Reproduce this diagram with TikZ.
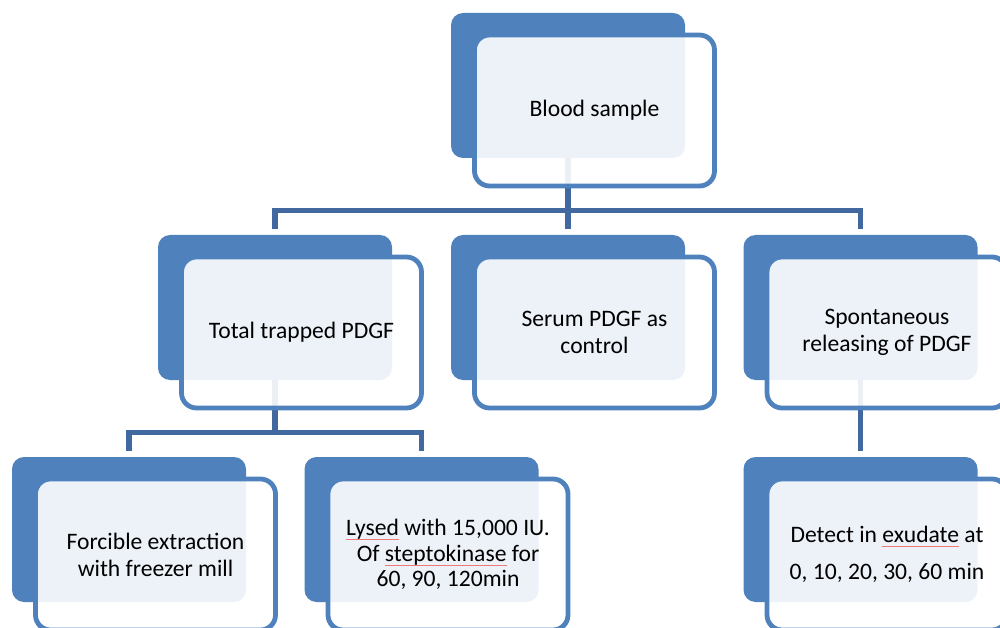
\documentclass[tikz,border=0pt]{standalone}
\usepackage{fontspec}
\setmainfont{Carlito}
\definecolor{accent}{RGB}{79,129,189}
\definecolor{linkblue}{RGB}{65,105,160}
\definecolor{spellred}{RGB}{240,120,120}
\pgfdeclarelayer{links}
\pgfsetlayers{links,main}
% thin red spell-check mark under a word
\newsavebox\spellbox
\newcommand\spellmark[1]{\sbox\spellbox{#1}\rlap{\color{spellred}\rule[-0.2em]{\wd\spellbox}{1.1pt}}\usebox\spellbox}

\tikzset{
  backbox/.style={rectangle, rounded corners=12pt, fill=accent,
    minimum width=234pt, minimum height=145pt, inner sep=0pt},
  frontbox/.style={rectangle, rounded corners=15pt, draw=accent, line width=4.8pt,
    fill=white, fill opacity=0.9, text opacity=1,
    minimum width=240pt, minimum height=151pt, inner sep=0pt, align=center,
    font=\fontsize{23.6}{27}\selectfont},
  link/.style={draw=linkblue, line width=5.5pt, line join=miter}
}

\begin{document}
\begin{tikzpicture}[x=1pt, y=-1pt]
\useasboundingbox (0,0) rectangle (1000,628);
\begin{scope}
\clip (0,0) rectangle (1000,628);

% top level
\node[backbox] (b1) at (568,85.5) {};
\node[frontbox] (f1) at (594.5,110.5) {Blood sample};

% second level
\node[backbox] (b2) at (275,307.5) {};
\node[frontbox] (f2) at (301.5,332.5) {Total trapped PDGF};
\node[backbox] (b3) at (568,307.5) {};
\node[frontbox] (f3) at (594.5,332.5) {Serum PDGF as\\control};
\node[backbox] (b4) at (860.5,307.5) {};
\node[frontbox] (f4) at (887,332.5) {Spontaneous\\releasing of PDGF};

% third level
\node[backbox] (b5) at (129,529.5) {};
\node[frontbox] (f5) at (155.5,554.5) {Forcible extraction\\with freezer mill};
\node[backbox] (b6) at (421.5,529.5) {};
\node[frontbox, font=\fontsize{23.6}{25.5}\selectfont] (f6) at (448,554.5)
  {\spellmark{Lysed} with 15,000 IU.\\Of \spellmark{steptokinase} for\\60, 90, 120min};
\node[backbox] (b7) at (860.5,529.5) {};
\node[frontbox, font=\fontsize{23.6}{37}\selectfont] (f7) at (887,554.5)
  {Detect in \spellmark{exudate} at\\0, 10, 20, 30, 60 min};
\end{scope}

% connectors behind the boxes
\begin{pgfonlayer}{links}
\coordinate (bus1) at (568,210.5);
\coordinate (bus2) at (275,432.5);
\draw[link] (b1.south) -- (bus1);
\draw[link] ([yshift=5.5pt]b2.north) |- (bus1) -| ([yshift=5.5pt]b4.north);
\draw[link] (bus1) -- ([yshift=5.5pt]b3.north);
\draw[link] (b2.south) -- (bus2);
\draw[link] ([yshift=5.5pt]b5.north) |- (bus2) -| ([yshift=5.5pt]b6.north);
\draw[link] (b4.south) -- ([yshift=5.5pt]b7.north);
\end{pgfonlayer}
\end{tikzpicture}
\end{document}
